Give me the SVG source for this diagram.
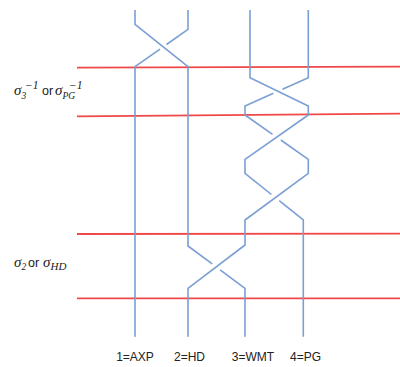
<svg xmlns="http://www.w3.org/2000/svg" width="400" height="367" viewBox="0 0 400 367">
  <style>
    .strand { fill: none; stroke: #7a9fd4; stroke-width: 1.6; stroke-linejoin: miter; }
    .level { fill: none; stroke: #f04848; stroke-width: 1.8; }
    .lbl { font-family: "Liberation Sans", Arial, sans-serif; font-size: 12px; fill: #222; }
    .sym { font-family: "Liberation Serif", "DejaVu Serif", serif; font-style: italic; fill: #1a1a1a; }
    .word { font-family: "Liberation Sans", Arial, sans-serif; font-size: 12.5px; fill: #1a1a1a; }
  </style>
  <rect width="400" height="367" fill="#ffffff"/>

  <!-- horizontal level lines -->
  <g id="levels">
    <path class="level" d="M77,67.7 L400,66.6"/>
    <path class="level" d="M77,116.3 L400,113.6"/>
    <path class="level" d="M77,234 L400,233.7"/>
    <path class="level" d="M77,298.3 L400,298.3"/>
  </g>

  <!-- braid strands; a break in a path marks the under-crossing strand -->
  <g id="connectors">
    <path id="strand-a" class="strand" d="M135,10 V24.3 L188,66.7 V246 L212.2,263.9 M220.1,269.9 L245,288.3 V336.7"/>
    <path id="strand-b" class="strand" d="M188,10 V29.3 L166.5,44.5 M160,49.2 L135,66.7 V336.7"/>
    <path id="strand-c" class="strand" d="M250,10 V77.7 L308.3,106 V115 L245,159.3 V173.3 L271.4,194.5 M279.2,200.7 L303.3,220 V336.7"/>
    <path id="strand-d" class="strand" d="M308.3,10 V77.7 L282.5,89.2 M273.4,93.3 L245,106 V115 L272.5,134.3 M280.8,140 L308.3,159.3 V173.3 L245,220 V245 L188,288.3 V336.7"/>
  </g>

  <!-- generator labels -->
  <g id="label-sigma3">
    <text class="sym" x="14" y="95" font-size="15">σ</text>
    <text class="sym" x="21.5" y="98.5" font-size="9.5">3</text>
    <text class="sym" x="25" y="88.5" font-size="11.5" font-style="normal">−1</text>
    <text class="word" x="42" y="95">or</text>
    <text class="sym" x="55" y="95" font-size="15">σ</text>
    <text class="sym" x="62.5" y="98.5" font-size="9.5">PG</text>
    <text class="sym" x="69" y="88.5" font-size="11.5" font-style="normal">−1</text>
  </g>
  <g id="label-sigma2">
    <text class="sym" x="14" y="266.7" font-size="15">σ</text>
    <text class="sym" x="21.5" y="270.2" font-size="9.5">2</text>
    <text class="word" x="28" y="266.7">or</text>
    <text class="sym" x="43" y="266.7" font-size="15">σ</text>
    <text class="sym" x="50.5" y="270.2" font-size="11">HD</text>
  </g>

  <!-- strand names -->
  <g id="node-axp"><text class="lbl" x="135" y="360.5" text-anchor="middle">1=AXP</text></g>
  <g id="node-hd"><text class="lbl" x="189.5" y="360.5" text-anchor="middle">2=HD</text></g>
  <g id="node-wmt"><text class="lbl" x="253" y="360.5" text-anchor="middle">3=WMT</text></g>
  <g id="node-pg"><text class="lbl" x="305.5" y="360.5" text-anchor="middle">4=PG</text></g>
</svg>
